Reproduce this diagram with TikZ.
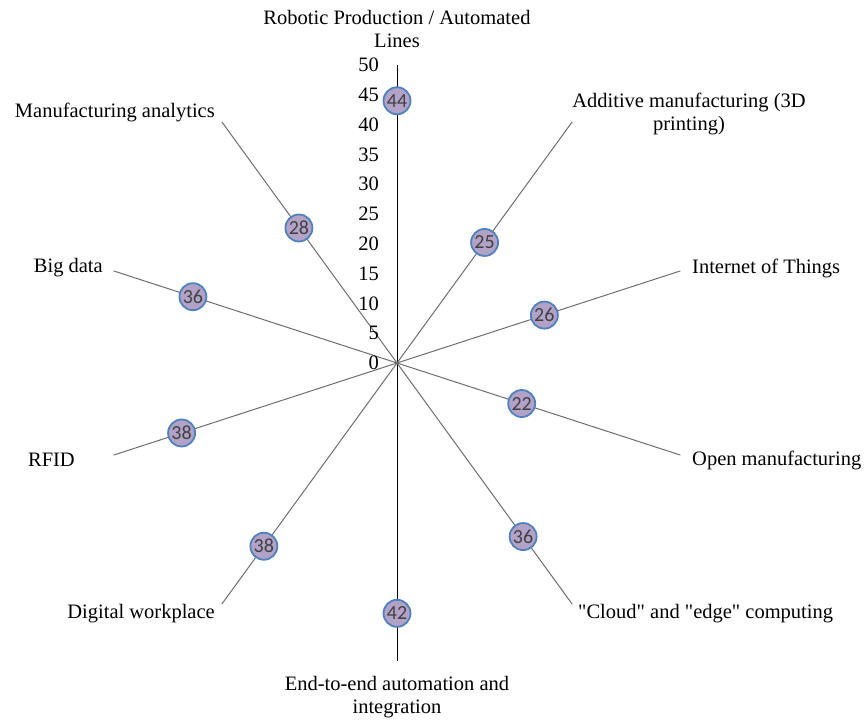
\documentclass[tikz,border=0pt]{standalone}
\usepackage{fontspec}
\setmainfont{Liberation Serif}[Ligatures=TeXOff]
\newfontfamily\markfont{Carlito}
\definecolor{mfill}{HTML}{B3A2C7}
\definecolor{mline}{HTML}{4F81BD}
\definecolor{mtext}{HTML}{404040}
\definecolor{spokegray}{HTML}{6E6E6E}
\begin{document}
\begin{tikzpicture}[x=1pt,y=1pt,
  spoke/.style={draw=spokegray,line width=1pt},
  vspoke/.style={draw=black,line width=1pt},
  marker/.style={circle,draw=mline,fill=mfill,line width=1.8pt,minimum size=27pt,inner sep=0pt,
    font=\markfont\fontsize{20}{21}\selectfont,text=mtext},
  catlabel/.style={font=\fontsize{20.5}{23}\selectfont,align=center,inner sep=0pt},
  ticklabel/.style={font=\fontsize{20.5}{22}\selectfont,anchor=east,inner sep=0pt}]
\useasboundingbox (-397,-359) rectangle (469,363);
\coordinate (O) at (0,0);
% spoke ends
\foreach \i/\a in {1/90,2/54,3/18,4/-18,5/-54,6/-90,7/-126,8/-162,9/162,10/126}
  \coordinate (e\i) at (\a:298);
\draw[vspoke] (O) -- (e1);
\draw[vspoke] (O) -- (e6);
\foreach \i in {2,3,4,5,7,8,9,10}
  \draw[spoke] (O) -- (e\i);
% tick labels
\foreach \v in {0,5,...,50}
  \node[ticklabel] (t\v) at (-18,{5.96*\v}) {\v};
% markers
\foreach \i/\a/\v in {1/90/44,2/54/25,3/18/26,4/-18/22,5/-54/36,6/-90/42,7/-126/38,8/-162/38,9/162/36,10/126/28}
  \node[marker] (m\i) at (\a:{5.96*\v}) {\v};
% category labels
\node[catlabel] (l1) at (0,334) {Robotic Production / Automated\\Lines};
\node[catlabel] (l2) at (292,249) {Additive manufacturing (3D\\printing)};
\node[catlabel,anchor=west] (l3) at (295,95) {Internet of Things};
\node[catlabel,anchor=west] (l4) at (295,-97) {Open manufacturing};
\node[catlabel,anchor=west] (l5) at (181,-251) {"Cloud" and "edge" computing};
\node[catlabel] (l6) at (0,-334) {End-to-end automation and\\integration};
\node[catlabel,anchor=east] (l7) at (-182,-251) {Digital workplace};
\node[catlabel,anchor=east] (l8) at (-322,-97) {RFID};
\node[catlabel,anchor=east] (l9) at (-294,95) {Big data};
\node[catlabel,anchor=east] (l10) at (-182,250) {Manufacturing analytics};
\end{tikzpicture}
\end{document}
